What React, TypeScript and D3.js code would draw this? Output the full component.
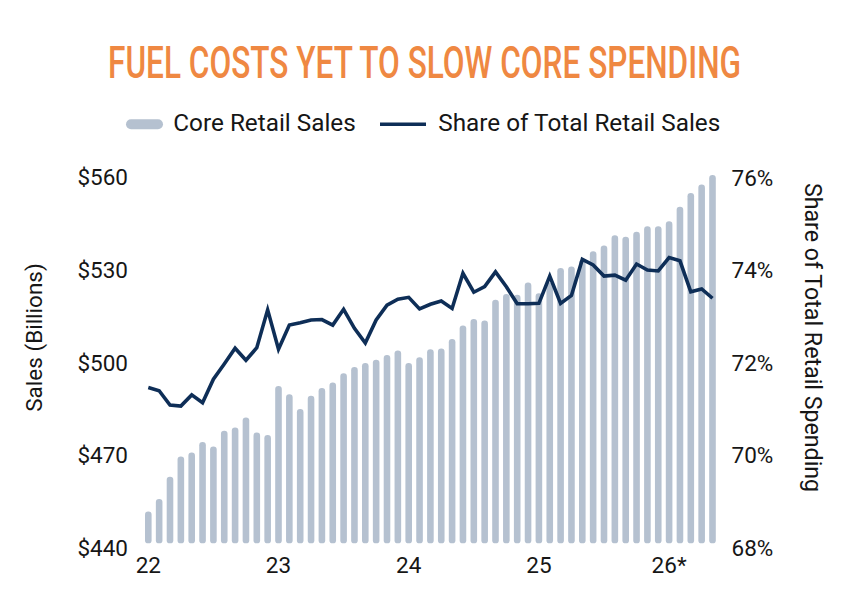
import React, { useLayoutEffect, useRef, useState } from "react";
import * as d3 from "d3";

// Monthly observations, Jan 2022 through May 2026
const months: Date[] = d3.timeMonths(new Date(2022, 0, 1), new Date(2026, 5, 1));

// Core retail sales, $ billions
const coreSales: number[] = [
  451.8, 455.9, 463.1, 469.6, 470.9, 474.3, 472.9, 478.0, 479.0, 482.3, 477.4, 476.6,
  492.5, 489.8, 485.0, 489.3, 491.8, 493.6, 496.6, 498.6, 499.9, 501.0, 502.5, 504.0,
  499.9, 501.8, 504.4, 504.6, 507.7, 512.1, 514.2, 513.7, 520.4, 522.3, 522.0, 526.0,
  522.5, 526.0, 530.7, 531.2, 533.4, 536.1, 538.0, 541.3, 540.8, 542.4, 544.2, 544.2,
  545.8, 550.5, 555.0, 557.7, 560.8,
];

// Core sales as a share of total retail sales, %
const shareOfTotal: number[] = [
  71.47, 71.40, 71.09, 71.07, 71.31, 71.14, 71.65, 71.98, 72.32, 72.06, 72.33, 73.15,
  72.30, 72.82, 72.87, 72.93, 72.94, 72.82, 73.16, 72.75, 72.43, 72.93, 73.25, 73.38,
  73.42, 73.17, 73.27, 73.34, 73.18, 73.94, 73.53, 73.65, 73.97, 73.65, 73.28, 73.28,
  73.29, 73.88, 73.29, 73.46, 74.24, 74.12, 73.88, 73.90, 73.79, 74.14, 74.01, 73.99,
  74.28, 74.21, 73.54, 73.60, 73.40,
];

const salesTicks: number[] = [440, 470, 500, 530, 560];
const shareTicks: number[] = [68, 70, 72, 74, 76];
const yearTickLabels: string[] = ["22", "23", "24", "25", "26*"];
const yearTickMonths: Date[] = [
  new Date(2022, 0, 1),
  new Date(2023, 0, 1),
  new Date(2024, 0, 1),
  new Date(2025, 0, 1),
  new Date(2026, 0, 1),
];

const W = 852;
const H = 610;
const FONT = "Roboto, 'Noto Sans', sans-serif";
const BAR_COLOR = "#b5c1d0";
const LINE_COLOR = "#0e2e57";
const TITLE_COLOR = "#ef8842";
const TEXT_COLOR = "#161616";

const TITLE_X = 108;
const TITLE_WIDTH = 633;

export default function App() {
  const titleRef = useRef<SVGTextElement>(null);
  const [titleScale, setTitleScale] = useState(0.6);

  // Condense the title horizontally so it spans its intended width
  useLayoutEffect(() => {
    const el = titleRef.current;
    if (!el) return;
    const natural = el.getComputedTextLength();
    if (natural > 0) setTitleScale(TITLE_WIDTH / natural);
  }, []);

  const x = d3
    .scalePoint<number>()
    .domain(months.map((d) => +d))
    .range([148.3, 712.5]);

  const ySales = d3.scaleLinear().domain([440, 560]).range([548, 177.5]);
  const yShare = d3.scaleLinear().domain([68, 76]).range([548, 178]);

  const barWidth = 6.6;
  const barBase = ySales(441.5);

  const line = d3
    .line<number>()
    .x((_, i) => x(+months[i]) as number)
    .y((d) => yShare(d));

  return (
    <svg
      width={W}
      height={H}
      viewBox={`0 0 ${W} ${H}`}
      style={{ position: "absolute", left: 0, top: 0, background: "#fff" }}
      fontFamily={FONT}
    >
      <rect x={0} y={0} width={W} height={H} fill="#fff" />

      {/* Title */}
      <g transform={`translate(${TITLE_X},78) scale(${titleScale},1)`}>
        <text ref={titleRef} x={0} y={0} fontSize={44.5} fontWeight={500} fill={TITLE_COLOR}>
          FUEL COSTS YET TO SLOW CORE SPENDING
        </text>
      </g>

      {/* Legend */}
      <g>
        <rect x={126} y={119.3} width={37} height={10} rx={5} fill={BAR_COLOR} />
        <text x={173.3} y={130.8} fontSize={24.3} fill={TEXT_COLOR}>
          Core Retail Sales
        </text>
        <line x1={380} x2={426} y1={124.3} y2={124.3} stroke={LINE_COLOR} strokeWidth={3.5} />
        <text x={438.3} y={130.8} fontSize={24.3} fill={TEXT_COLOR}>
          Share of Total Retail Sales
        </text>
      </g>

      {/* Bars: core retail sales */}
      <g>
        {coreSales.map((v, i) => {
          const cx = x(+months[i]) as number;
          const top = ySales(v);
          return (
            <rect
              key={i}
              x={cx - barWidth / 2}
              y={top}
              width={barWidth}
              height={barBase - top}
              rx={3.2}
              fill={BAR_COLOR}
            />
          );
        })}
      </g>

      {/* Line: share of total retail sales */}
      <path
        d={line(shareOfTotal) || ""}
        fill="none"
        stroke={LINE_COLOR}
        strokeWidth={3.6}
        strokeLinejoin="miter"
        strokeLinecap="butt"
      />

      {/* Left axis */}
      <g fontSize={22.5} fill={TEXT_COLOR}>
        {salesTicks.map((t) => (
          <text key={t} x={128} y={ySales(t)} dy="0.35em" textAnchor="end">
            {`$${t}`}
          </text>
        ))}
      </g>
      <text
        transform={`translate(42,337.5) rotate(-90)`}
        textAnchor="middle"
        fontSize={22.5}
        fill={TEXT_COLOR}
      >
        Sales (Billions)
      </text>

      {/* Right axis */}
      <g fontSize={22.5} fill={TEXT_COLOR}>
        {shareTicks.map((t) => (
          <text key={t} x={731.5} y={yShare(t)} dy="0.35em" textAnchor="start">
            {`${t}%`}
          </text>
        ))}
      </g>
      <text
        transform={`translate(805,337.5) rotate(90)`}
        textAnchor="middle"
        fontSize={23.2}
        fill={TEXT_COLOR}
      >
        Share of Total Retail Spending
      </text>

      {/* Bottom axis */}
      <g fontSize={22.5} fill={TEXT_COLOR}>
        {yearTickMonths.map((d, i) => (
          <text key={i} x={x(+d) as number} y={573} textAnchor="middle">
            {yearTickLabels[i]}
          </text>
        ))}
      </g>
    </svg>
  );
}
